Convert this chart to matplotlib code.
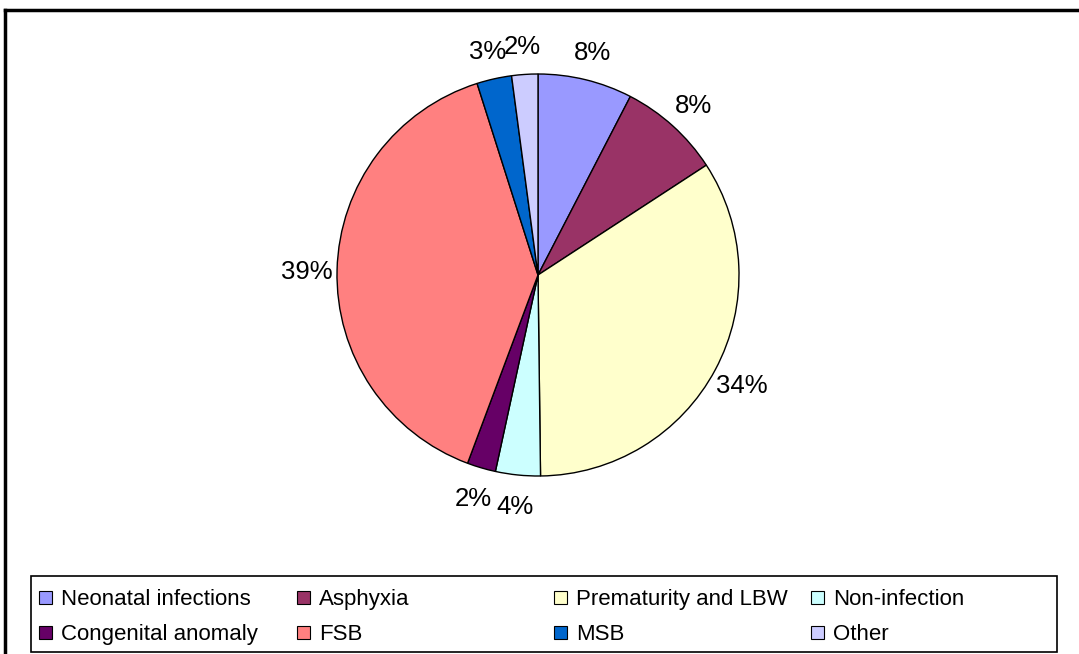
import matplotlib.pyplot as plt
from matplotlib.patches import Rectangle
from matplotlib.lines import Line2D

# Causes of perinatal death (share of total, %)
causes = ['Neonatal infections', 'Asphyxia', 'Prematurity and LBW', 'Non-infection',
          'Congenital anomaly', 'FSB', 'MSB', 'Other']
shares = [7.6, 8.2, 34.0, 3.6, 2.3, 39.4, 2.8, 2.1]
colors = ['#9999FF', '#993366', '#FFFFCC', '#CCFFFF', '#660066', '#FF8080', '#0066CC', '#CCCCFF']

plt.rcParams['font.family'] = ['Liberation Sans', 'DejaVu Sans']

W, H = 1079, 654
fig = plt.figure(figsize=(W / 100, H / 100), dpi=100)

# pie axes: centre (538, 275) px, radius 201 px
cx, cy, r = 538, 275, 201
ax = fig.add_axes([(cx - r) / W, (H - cy - r) / H, 2 * r / W, 2 * r / H])
ax.pie(shares, colors=colors, startangle=90, counterclock=False,
       autopct=lambda p: '%d%%' % round(p), pctdistance=1.15,
       wedgeprops=dict(edgecolor='black', linewidth=1),
       textprops=dict(fontsize=18.5, color='black', va='center_baseline'))
ax.set_aspect('equal')
ax.set_xlim(-1, 1)
ax.set_ylim(-1, 1)

# outer chart frame (top and left edges visible)
fig.add_artist(Line2D([5 / W, 1.01], [1 - 10 / H] * 2, transform=fig.transFigure,
                      color='black', linewidth=2.5))
fig.add_artist(Line2D([5 / W] * 2, [1 - 10 / H, -0.01], transform=fig.transFigure,
                      color='black', linewidth=2.5))

# legend box
lx0, ly0, lx1, ly1 = 31, 576, 1057, 652
fig.add_artist(Rectangle((lx0 / W, 1 - ly1 / H), (lx1 - lx0) / W, (ly1 - ly0) / H,
                         transform=fig.transFigure, facecolor='white',
                         edgecolor='black', linewidth=1.2))
col_x = [39, 297, 554, 811]
row_y = [597, 632]
for i, (name, c) in enumerate(zip(causes, colors)):
    x = col_x[i % 4]
    y = row_y[i // 4]
    fig.add_artist(Rectangle((x / W, 1 - (y + 7) / H), 13 / W, 13 / H,
                             transform=fig.transFigure, facecolor=c,
                             edgecolor='black', linewidth=0.8))
    fig.text((x + 22) / W, 1 - y / H, name, fontsize=16, va='center_baseline', ha='left')

fig.savefig('out.png', dpi=100)
